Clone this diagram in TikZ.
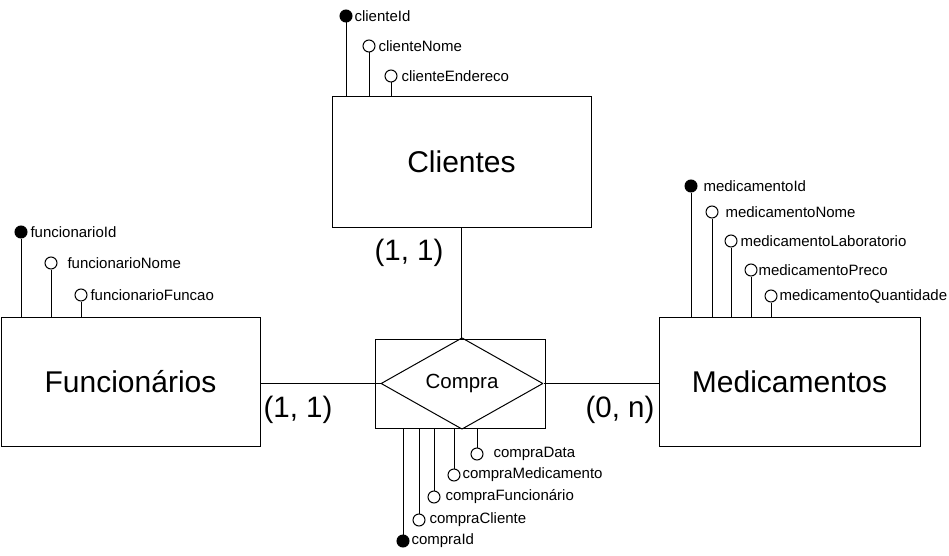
\documentclass[tikz,border=0pt]{standalone}
\usepackage{fontspec}
\setmainfont{Liberation Sans}
\usetikzlibrary{shapes.geometric}
\begin{document}
\begin{tikzpicture}[x=1pt,y=-1pt, line width=1pt,
 ent/.style={draw, rectangle, inner sep=0pt, font=\fontsize{30}{34}\selectfont},
 keyattr/.style={circle, draw, fill=black, minimum size=12pt, inner sep=0pt},
 attr/.style={circle, draw, fill=white, minimum size=12pt, inner sep=0pt},
 lbl/.style={anchor=west, inner sep=0pt, font=\fontsize{15}{17}\selectfont},
 card/.style={inner sep=0pt, font=\fontsize{29.5}{33}\selectfont},
 rel/.style={draw, diamond, inner sep=0pt, line join=bevel, font=\fontsize{20.5}{23}\selectfont}]
\useasboundingbox (0,0) rectangle (949,556);

% entities
\node[ent, minimum width=259pt, minimum height=130pt] (clientes) at (461.5,162) {Clientes};
\node[ent, minimum width=259pt, minimum height=129pt] (func) at (130.5,382) {Funcionários};
\node[ent, minimum width=261pt, minimum height=129pt] (med) at (789.5,382) {Medicamentos};

% relationship
\node[draw, rectangle, minimum width=170pt, minimum height=89pt, inner sep=0pt] (comprabox) at (460,384) {};
\node[rel, minimum width=162pt, minimum height=86pt] (compra) at (462,383.5) {Compra};

% connectors
\draw (clientes.south) -- (clientes.south |- comprabox.north);
\draw (func.east |- compra.west) -- (compra.west);
\draw (compra.east) -- (med.west |- compra.east);

% cardinalities
\node[card] (c1) at (409,253) {(1, 1)};
\node[card] (c2) at (298,410) {(1, 1)};
\node[card] (c3) at (620,410) {(0, n)};

% Clientes attributes
\node[keyattr] (cid) at (346,16) {};
\node[lbl] (cidl) at (354,16) {clienteId};
\node[attr] (cnome) at (369,46) {};
\node[lbl] (cnomel) at (378,46) {clienteNome};
\node[attr] (cend) at (391,76) {};
\node[lbl] (cendl) at (401,76) {clienteEndereco};
\draw (cid) -- (cid |- clientes.north);
\draw (cnome) -- (cnome |- clientes.north);
\draw (cend) -- (cend |- clientes.north);

% Funcionarios attributes
\node[keyattr] (fid) at (21,232) {};
\node[lbl] (fidl) at (30,232) {funcionarioId};
\node[attr] (fnome) at (51,263) {};
\node[lbl] (fnomel) at (67,263) {funcionarioNome};
\node[attr] (ffun) at (81,295) {};
\node[lbl] (ffunl) at (90,295) {funcionarioFuncao};
\draw (fid) -- (fid |- func.north);
\draw (fnome) -- (fnome |- func.north);
\draw (ffun) -- (ffun |- func.north);

% Medicamentos attributes
\node[keyattr] (mid) at (691,186) {};
\node[lbl] (midl) at (703,186) {medicamentoId};
\node[attr] (mnome) at (712,212) {};
\node[lbl] (mnomel) at (725,212) {medicamentoNome};
\node[attr] (mlab) at (731,241) {};
\node[lbl] (mlabl) at (740,241) {medicamentoLaboratorio};
\node[attr] (mpre) at (751,270) {};
\node[lbl] (mprel) at (758,270) {medicamentoPreco};
\node[attr] (mqtd) at (771,296) {};
\node[lbl] (mqtdl) at (779,296) {medicamentoQuantidade};
\draw (mid) -- (mid |- med.north);
\draw (mnome) -- (mnome |- med.north);
\draw (mlab) -- (mlab |- med.north);
\draw (mpre) -- (mpre |- med.north);
\draw (mqtd) -- (mqtd |- med.north);

% Compra attributes
\node[keyattr] (pid) at (403,541) {};
\node[lbl] (pidl) at (411,541) {compraId};
\node[attr] (pcli) at (419,520) {};
\node[lbl] (pclil) at (429,520) {compraCliente};
\node[attr] (pfun) at (434,497) {};
\node[lbl] (pfunl) at (445,497) {compraFuncionário};
\node[attr] (pmed) at (454,475) {};
\node[lbl] (pmedl) at (462,475) {compraMedicamento};
\node[attr] (pdat) at (477,454) {};
\node[lbl] (pdatl) at (493,454) {compraData};
\draw (pid) -- (pid |- comprabox.south);
\draw (pcli) -- (pcli |- comprabox.south);
\draw (pfun) -- (pfun |- comprabox.south);
\draw (pmed) -- (pmed |- comprabox.south);
\draw (pdat) -- (pdat |- comprabox.south);
\end{tikzpicture}
\end{document}
